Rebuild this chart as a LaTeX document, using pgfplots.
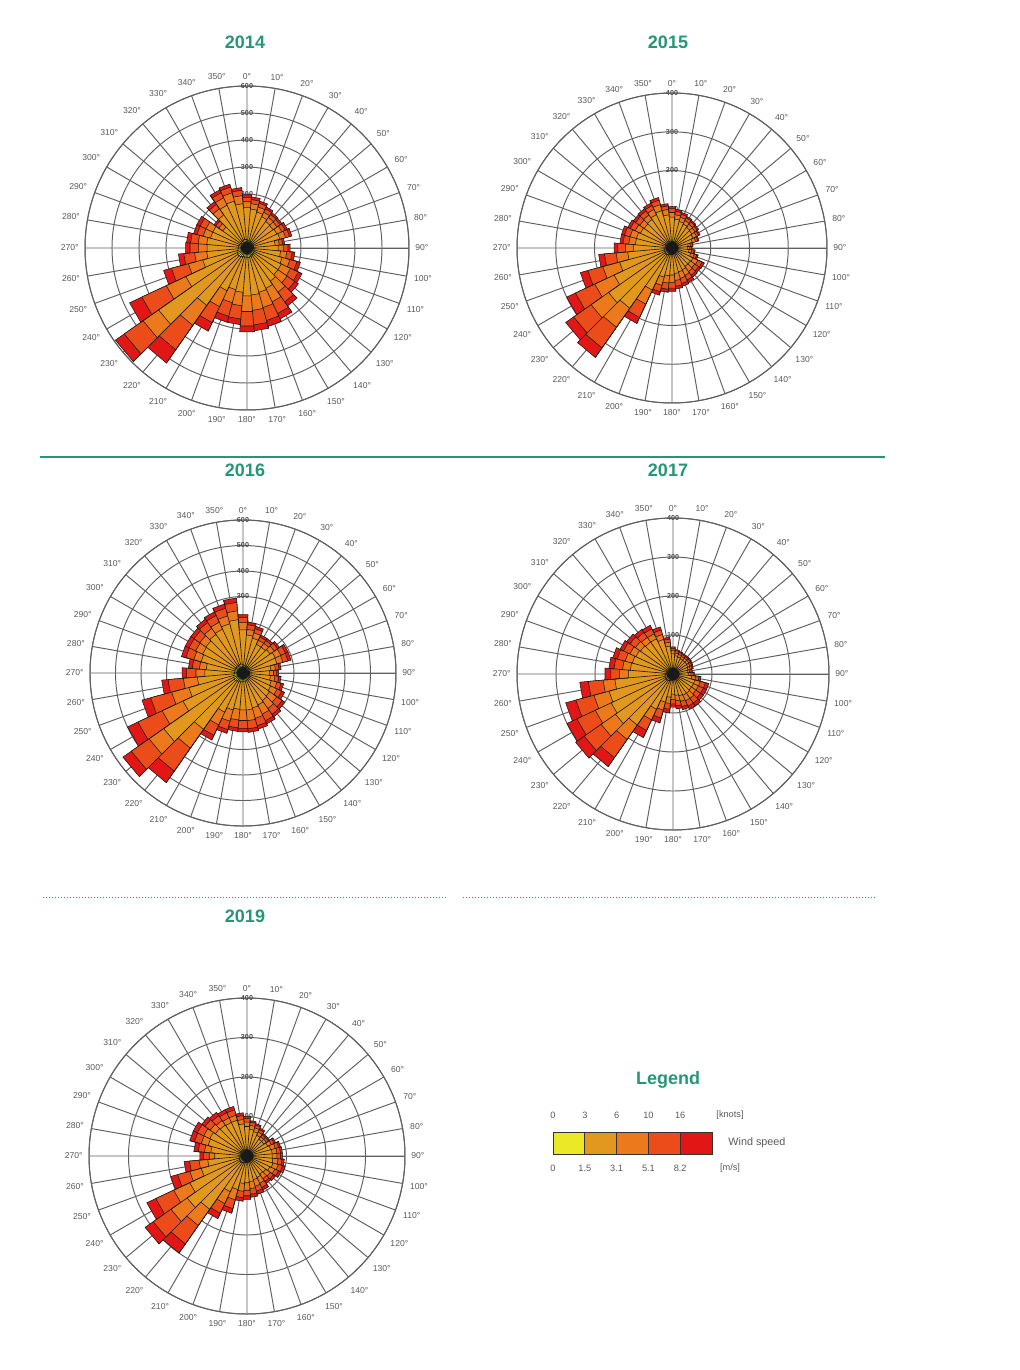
\documentclass[border=0pt]{standalone}
\usepackage{fontspec}
\setmainfont{Liberation Sans}
\usepackage{pgfplots}
\usepackage{pgfplotstable}
\usepgfplotslibrary{polar}
\pgfplotsset{compat=1.18}

\definecolor{teal1}{RGB}{38,150,120}
\definecolor{gridc}{RGB}{95,95,95}
\definecolor{labc}{RGB}{90,90,90}
\definecolor{cA}{RGB}{235,232,40}
\definecolor{cB}{RGB}{226,152,30}
\definecolor{cC}{RGB}{236,122,28}
\definecolor{cD}{RGB}{236,76,25}
\definecolor{cE}{RGB}{226,22,20}

% cumulative radius per direction: a=0-1.5, b=-3.1, c=-5.1, d=-8.2, e=>8.2 m/s
\pgfplotstableread{
dir a b c d e
0 30 150 172 188 198
10 28 145 165 180 190
20 27 138 157 172 180
30 25 128 146 160 168
40 24 120 138 152 160
50 24 118 136 150 158
60 25 122 142 156 165
70 26 126 148 163 172
80 22 105 120 133 140
90 24 116 136 152 160
100 26 125 148 168 178
110 28 135 165 192 205
120 30 140 178 210 225
130 30 140 182 216 232
140 32 150 200 244 262
150 34 165 220 268 290
160 35 170 228 278 300
170 36 175 232 286 308
180 36 178 236 290 312
190 34 165 215 264 285
200 34 160 210 262 285
210 36 175 240 305 340
220 40 260 350 460 520
230 42 400 470 555 595
240 40 250 330 430 480
250 36 170 225 290 320
260 34 150 195 235 255
270 32 148 180 212 228
280 32 150 182 210 225
290 30 140 168 192 205
300 30 140 168 192 205
310 26 110 128 142 150
320 30 150 178 198 210
330 32 175 205 226 238
340 33 180 212 234 245
350 32 165 195 215 225
}\tabA

\pgfplotstableread{
dir a b c d e
0 18 80 92 102 107
10 17 75 86 95 100
20 16 71 82 90 95
30 15 68 78 86 90
40 15 65 75 83 87
50 14 63 73 80 84
60 14 60 70 76 80
70 13 54 63 69 72
80 12 42 48 53 55
90 12 40 46 50 52
100 12 44 51 57 60
110 13 50 59 66 70
120 14 60 74 86 92
130 14 58 72 84 90
140 14 58 74 86 92
150 15 62 78 91 98
160 16 64 81 95 102
170 16 66 84 99 106
180 17 70 89 104 112
190 17 72 91 107 115
200 18 78 100 117 126
210 20 120 160 198 215
220 22 190 250 315 345
230 22 200 255 310 335
240 21 165 220 275 300
250 20 140 185 225 245
260 19 115 145 175 190
270 18 100 120 140 150
280 18 95 112 127 135
290 18 95 112 127 135
300 17 90 105 119 126
310 17 88 102 115 122
320 17 90 104 117 124
330 18 95 110 121 128
340 18 100 116 128 135
350 18 86 100 109 115
}\tabB

\pgfplotstableread{
dir a b c d e
0 32 170 198 218 230
10 30 150 172 190 200
20 29 142 163 180 190
30 27 124 142 156 165
40 27 124 142 156 165
50 28 130 150 166 175
60 30 140 164 184 195
70 30 138 162 183 195
80 26 110 128 142 150
90 25 104 120 132 140
100 26 108 126 141 150
110 27 115 138 155 165
120 28 120 148 168 180
130 30 128 162 188 200
140 31 132 170 198 210
150 32 138 178 207 220
160 32 142 184 214 228
170 33 146 188 220 234
180 33 145 187 218 232
190 33 143 185 216 230
200 34 150 196 230 245
210 36 170 225 270 290
220 40 270 360 470 525
230 42 380 450 535 575
240 40 260 350 455 500
250 38 220 290 375 410
260 36 180 235 295 320
270 34 150 185 222 240
280 32 145 172 200 215
290 34 170 200 232 250
300 34 175 205 234 250
310 34 178 207 235 250
320 35 185 214 242 258
330 35 190 220 249 265
340 36 200 232 263 280
350 36 210 245 278 295
}\tabC

\pgfplotstableread{
dir a b c d e
0 14 52 60 66 70
10 13 47 54 60 63
20 13 45 52 57 60
30 12 43 50 55 58
40 12 43 50 55 58
50 12 43 50 55 58
60 12 42 48 53 56
70 12 40 46 51 54
80 11 37 43 47 50
90 11 40 46 52 55
100 13 48 58 67 72
110 14 58 72 86 95
120 14 58 72 86 95
130 14 58 72 86 95
140 15 60 76 91 100
150 15 60 76 91 100
160 14 58 73 87 95
170 14 55 69 82 90
180 13 52 65 77 85
190 15 60 76 91 100
200 17 75 96 117 130
210 19 100 130 160 180
220 21 160 205 262 290
230 22 180 225 278 305
240 22 175 220 272 300
250 21 170 210 258 285
260 20 150 180 218 240
270 18 115 138 160 175
280 18 110 130 152 165
290 18 108 127 148 160
300 17 105 122 140 150
310 17 102 118 135 145
320 17 100 115 130 140
330 17 100 114 128 138
340 16 92 105 117 125
350 15 72 82 90 95
}\tabD

\pgfplotstableread{
dir a b c d e
0 16 75 86 95 100
10 15 68 78 86 90
20 15 64 74 81 85
30 14 58 67 74 78
40 13 52 60 66 70
50 13 52 60 66 70
60 14 58 68 76 80
70 14 62 74 83 88
80 14 64 76 85 90
90 14 64 76 85 90
100 15 66 79 89 95
110 15 68 82 93 100
120 15 64 78 88 95
130 14 58 72 82 88
140 14 56 70 79 85
150 15 60 76 88 95
160 15 62 79 92 100
170 16 65 83 97 105
180 16 68 87 101 110
190 17 70 90 106 115
200 18 88 115 138 150
210 19 100 133 160 175
220 21 165 215 272 300
230 22 185 235 290 315
240 21 160 205 255 280
250 20 120 150 182 200
260 18 100 122 146 160
270 17 82 96 110 120
280 18 92 108 124 135
290 18 102 120 138 150
300 18 104 121 139 150
310 18 98 114 130 140
320 17 96 110 125 135
330 17 94 107 121 130
340 17 94 107 121 130
350 16 82 93 103 110
}\tabE

% build step polygons (one per speed class) and bar separators from a table
\newcommand\rosebuild[2]{%
  \pgfplotstablegetrowsof{#1}%
  \pgfmathtruncatemacro\rosen{\pgfplotsretval-1}%
  \foreach \k in {a,b,c,d,e,s}{\expandafter\gdef\csname #2\k\endcsname{}}%
  \foreach \i in {0,...,\rosen}{%
    \pgfplotstablegetelem{\i}{dir}\of#1\let\rosedir\pgfplotsretval
    \pgfmathsetmacro\rosel{95-\rosedir}%
    \pgfmathsetmacro\roser{85-\rosedir}%
    \foreach \k in {a,b,c,d,e}{%
      \pgfplotstablegetelem{\i}{\k}\of#1\let\roseval\pgfplotsretval
      \expandafter\xdef\csname #2\k\endcsname{\csname #2\k\endcsname (\rosel,\roseval) (\roser,\roseval)}%
    }%
    \pgfplotstablegetelem{\i}{e}\of#1\let\roseval\pgfplotsretval
    \expandafter\xdef\csname #2s\endcsname{\csname #2s\endcsname (\rosel,0) (\rosel,\roseval) (\rosel,0)}%
  }}
\rosebuild{\tabA}{rA}
\rosebuild{\tabB}{rB}
\rosebuild{\tabC}{rC}
\rosebuild{\tabD}{rD}
\rosebuild{\tabE}{rE}

\newcommand\roseplot[1]{%
  \edef\rosetmp{%
    \noexpand\addplot[rosebar,fill=cE] coordinates {\csname #1e\endcsname} --cycle;
    \noexpand\addplot[rosebar,fill=cD] coordinates {\csname #1d\endcsname} --cycle;
    \noexpand\addplot[rosebar,fill=cC] coordinates {\csname #1c\endcsname} --cycle;
    \noexpand\addplot[rosebar,fill=cB] coordinates {\csname #1b\endcsname} --cycle;
    \noexpand\addplot[rosebar,fill=cA] coordinates {\csname #1a\endcsname} --cycle;
    \noexpand\addplot[rosebar,line width=0.32pt] coordinates {\csname #1s\endcsname};
  }\rosetmp}

\newcommand\ringlabels[1]{%
  \pgfplotsinvokeforeach{#1}{\node[font=\fontsize{3.6}{4}\selectfont\bfseries, text=black!70, inner sep=0pt] at (axis cs:90,##1) {##1};}}

\pgfplotsset{
  rosebar/.style={draw=black!90, line width=0.28pt, line join=round, mark=none},
  rose/.style={
    scale only axis, width=#1, height=#1,
    anchor=center,
    xmin=0, xmax=360, ymin=0,
    xtick={0,10,...,350},
    xticklabels={90°,80°,70°,60°,50°,40°,30°,20°,10°,0°,350°,340°,330°,320°,310°,300°,290°,280°,270°,260°,250°,240°,230°,220°,210°,200°,190°,180°,170°,160°,150°,140°,130°,120°,110°,100°},
    xticklabel style={font=\fontsize{4.3}{5}\selectfont, text=labc, inner sep=3pt},
    yticklabels={},
    grid=major,
    major grid style={gridc, line width=0.48pt},
    axis line style={gridc, line width=0.5pt},
    major tick length=0pt,
    clip=false,
  },
}

\begin{document}
\begin{tikzpicture}
\path[use as bounding box, fill=white] (0,0) rectangle (509.5pt,-685pt);

\begin{scope}[every node/.style={font=\fontsize{9}{10}\selectfont\bfseries, text=teal1}]
\node at (122.5pt,-21pt) {2014};
\node at (334pt,-21pt) {2015};
\node at (122.5pt,-235pt) {2016};
\node at (334pt,-235pt) {2017};
\node at (122.5pt,-458pt) {2019};
\node at (334pt,-540pt) {Legend};
\end{scope}
\draw[teal1, line width=0.7pt] (20pt,-228.5pt) -- (442.5pt,-228.5pt);
\draw[teal1, line width=0.5pt, densely dotted] (21.5pt,-448.5pt) -- (223.5pt,-448.5pt);
\draw[teal1, line width=0.5pt, densely dotted] (231.5pt,-448.5pt) -- (437.5pt,-448.5pt);

% 2014
\begin{polaraxis}[rose=162pt, at={(123.5pt,-124pt)}, ymax=600, ytick={100,200,...,600}]
\ringlabels{100,200,300,400,500,600}
\roseplot{rA}
\end{polaraxis}
% 2015
\begin{polaraxis}[rose=155pt, at={(336pt,-124pt)}, ymax=400, ytick={100,200,...,400}]
\ringlabels{100,200,300,400}
\roseplot{rB}
\end{polaraxis}
% 2016
\begin{polaraxis}[rose=153pt, at={(121.5pt,-336.5pt)}, ymax=600, ytick={100,200,...,600}]
\ringlabels{100,200,300,400,500,600}
\roseplot{rC}
\end{polaraxis}
% 2017
\begin{polaraxis}[rose=156pt, at={(336.5pt,-337pt)}, ymax=400, ytick={100,200,...,400}]
\ringlabels{100,200,300,400}
\roseplot{rD}
\end{polaraxis}
% 2019
\begin{polaraxis}[rose=158pt, at={(123.5pt,-578pt)}, ymax=400, ytick={100,200,...,400}]
\ringlabels{100,200,300,400}
\roseplot{rE}
\end{polaraxis}

% legend
\foreach \c [count=\n from 0] in {cA,cB,cC,cD,cE}
  \draw[fill=\c, draw=black!80, line width=0.4pt] (276.5pt+\n*15.9pt,-566pt) rectangle ++(15.9pt,-11pt);
\begin{scope}[every node/.style={font=\fontsize{4.6}{5}\selectfont, text=labc, inner sep=0pt}]
\foreach \t [count=\n from 0] in {0,3,6,10,16}
  \node at (276.5pt+\n*15.9pt,-557.5pt) {\t};
\foreach \t [count=\n from 0] in {0,1.5,3.1,5.1,8.2}
  \node at (276.5pt+\n*15.9pt,-584pt) {\t};
\node at (365pt,-557.5pt) {[knots]};
\node at (365pt,-584pt) {[m/s]};
\node[anchor=west, font=\fontsize{5.4}{6}\selectfont] at (364pt,-571.5pt) {Wind speed};
\end{scope}
\end{tikzpicture}
\end{document}
